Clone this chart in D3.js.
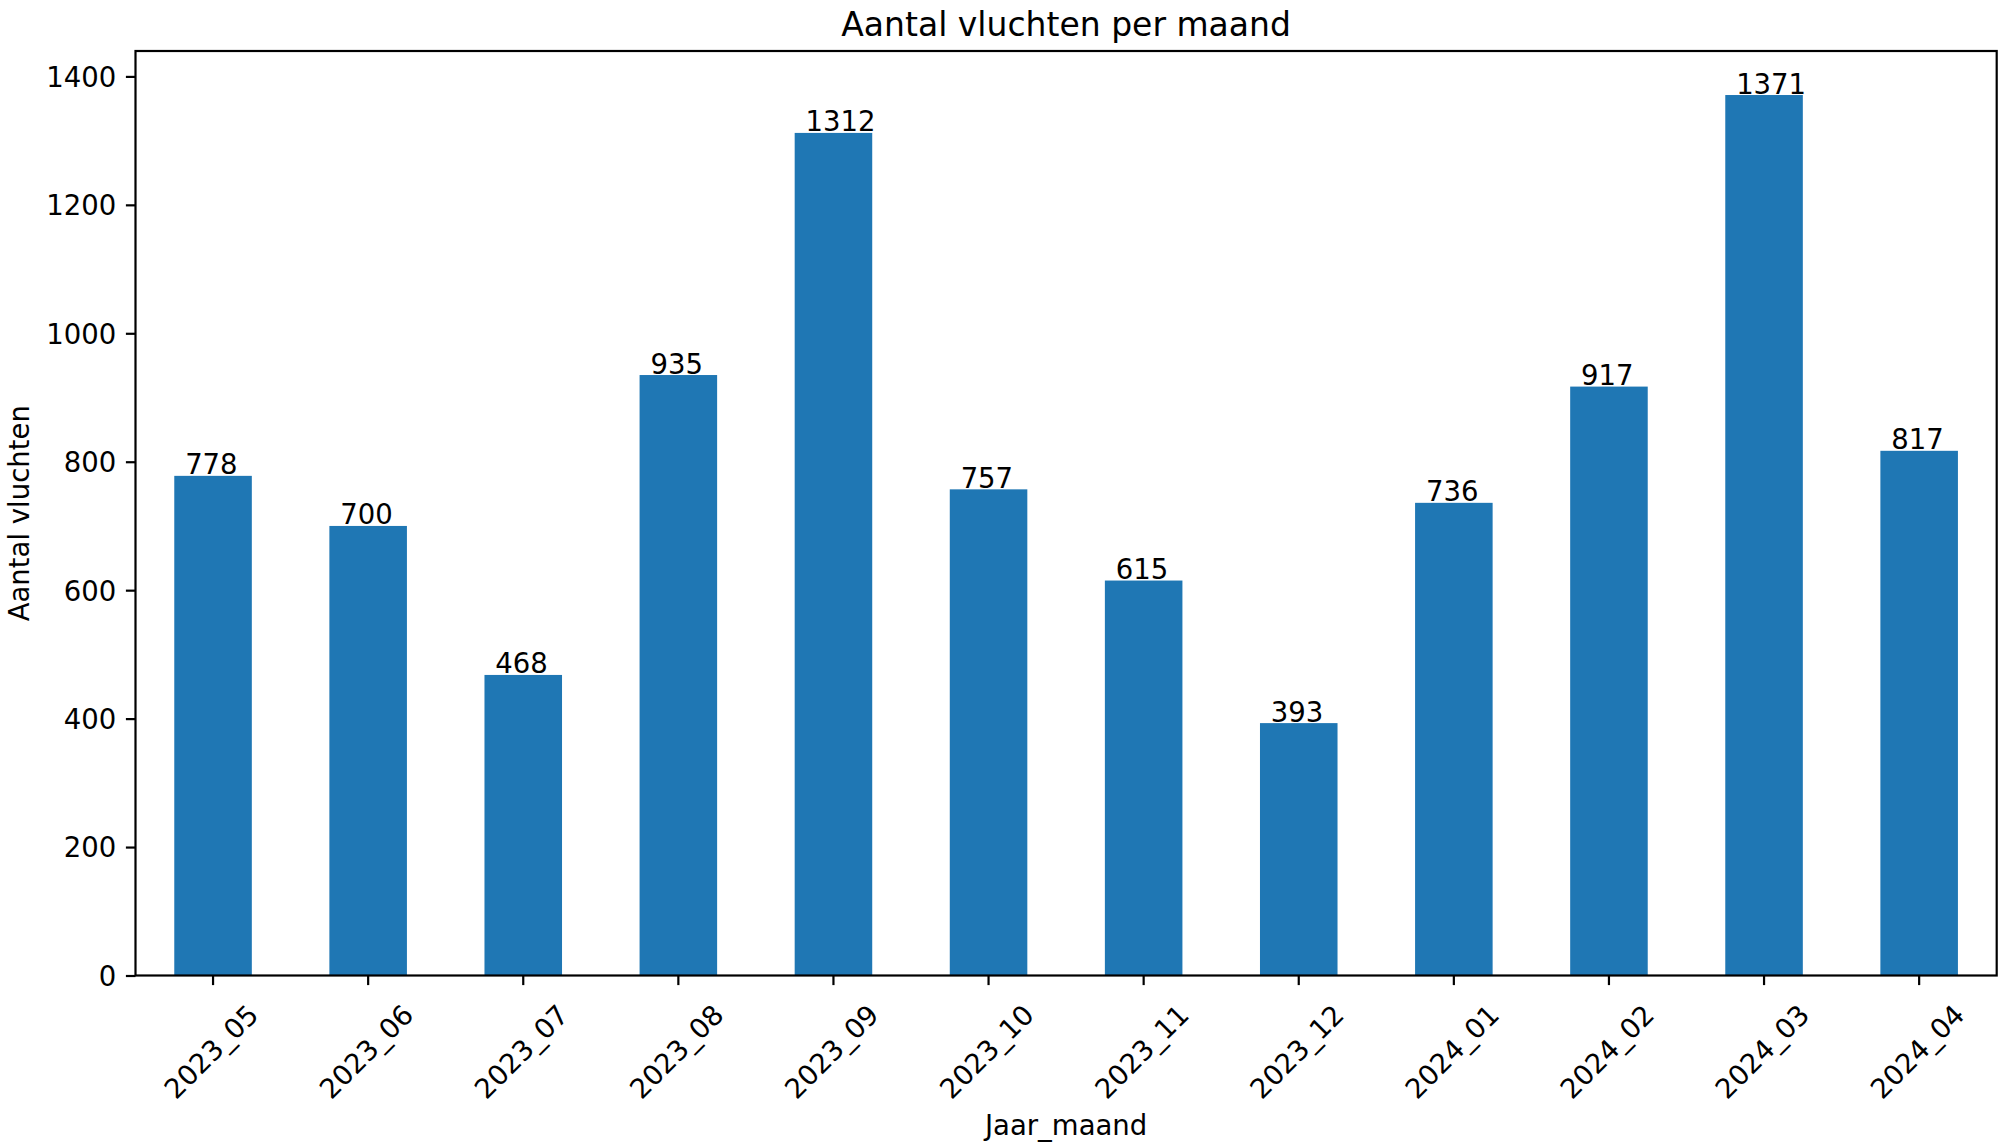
<!DOCTYPE html>
<html>
<head>
<meta charset="utf-8">
<script src="https://cdn.jsdelivr.net/npm/d3@7/dist/d3.min.js"></script>
<style>
  html, body { margin: 0; padding: 0; background: #fff; }
  svg { display: block; }
  text { font-family: "DejaVu Sans", sans-serif; fill: #000; }
</style>
</head>
<body>
<svg id="chart" width="2001" height="1143"></svg>
<script>
const categories = ["2023_05","2023_06","2023_07","2023_08","2023_09","2023_10","2023_11","2023_12","2024_01","2024_02","2024_03","2024_04"];
const flights = [778, 700, 468, 935, 1312, 757, 615, 393, 736, 917, 1371, 817];
const yTicks = [0, 200, 400, 600, 800, 1000, 1200, 1400];
const chartTitle = "Aantal vluchten per maand";
const xLabel = "Jaar_maand";
const yLabel = "Aantal vluchten";

(function () {
const W = 2001, H = 1143;
const mLeft = 135.5, mRight = 1996.7, mTop = 51, mBottom = 975.5;
const fs = 27.5, tickLen = 9.6, lw = 2.2;

const svg = d3.select("#chart");
svg.append("rect").attr("width", W).attr("height", H).attr("fill", "#fff");

const x = d3.scaleBand().domain(categories).range([mLeft, mRight]).paddingInner(0.5).paddingOuter(0.25);
const y = d3.scaleLinear().domain([0, d3.max(flights) * 1.05]).range([mBottom, mTop]);

// bars
svg.append("g").selectAll("rect").data(categories).join("rect")
  .attr("x", d => x(d))
  .attr("width", x.bandwidth())
  .attr("y", (d, i) => y(flights[i]))
  .attr("height", (d, i) => y(0) - y(flights[i]))
  .attr("fill", "#1f77b4");

// value labels
svg.append("g").selectAll("text").data(categories).join("text")
  .attr("x", d => x(d) + x.bandwidth() / 2 - 0.18 * x.step())
  .attr("y", (d, i) => y(flights[i]) - 1.5)
  .attr("text-anchor", "start")
  .style("font-size", fs + "px")
  .text((d, i) => flights[i]);

// y axis
const yAxis = svg.append("g").attr("transform", `translate(${mLeft},0)`)
  .call(d3.axisLeft(y).tickValues(yTicks).tickSize(tickLen).tickPadding(9.6).tickFormat(d3.format("d")));
yAxis.select(".domain").remove();
yAxis.selectAll("line").attr("stroke", "#000").attr("stroke-width", lw);
yAxis.selectAll("text").style("font-size", fs + "px").style("font-family", "DejaVu Sans").attr("fill", "#000").attr("dy", "0.36em");

// x axis
const xAxis = svg.append("g").attr("transform", `translate(0,${mBottom})`)
  .call(d3.axisBottom(x).tickSize(tickLen).tickPadding(9.6));
xAxis.select(".domain").remove();
xAxis.selectAll("line").attr("stroke", "#000").attr("stroke-width", lw);
xAxis.selectAll(".tick text")
  .style("font-size", fs + "px").style("font-family", "DejaVu Sans").attr("fill", "#000")
  .attr("text-anchor", "middle")
  .attr("x", 0).attr("y", 0).attr("dy", "0.36em")
  .attr("transform", "translate(-2,76) rotate(-45)");

// frame
svg.append("rect").attr("x", mLeft).attr("y", mTop)
  .attr("width", mRight - mLeft).attr("height", mBottom - mTop)
  .attr("fill", "none").attr("stroke", "#000").attr("stroke-width", lw);

// title
svg.append("text").attr("x", (mLeft + mRight) / 2).attr("y", 36)
  .attr("text-anchor", "middle").style("font-size", "33px").text(chartTitle);

// axis labels
svg.append("text").attr("x", (mLeft + mRight) / 2).attr("y", 1135)
  .attr("text-anchor", "middle").style("font-size", fs + "px").text(xLabel);
svg.append("text").attr("transform", `translate(28.5,${(mTop + mBottom) / 2}) rotate(-90)`)
  .attr("text-anchor", "middle").style("font-size", fs + "px").text(yLabel);
})();
</script>
</body>
</html>
